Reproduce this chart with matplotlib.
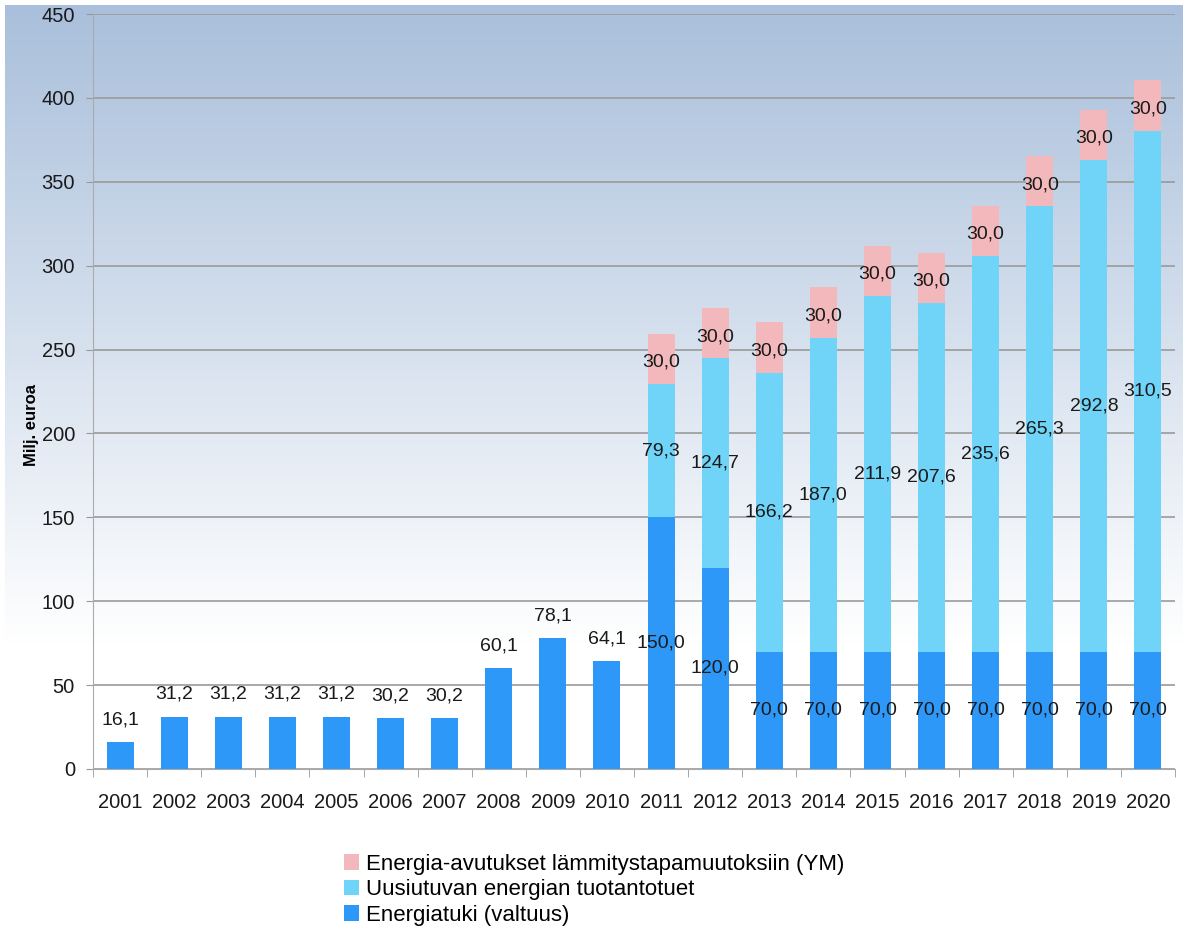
import numpy as np
import matplotlib
matplotlib.use("Agg")
import matplotlib.pyplot as plt
from matplotlib.colors import LinearSegmentedColormap

plt.rcParams['font.family'] = ['Liberation Sans', 'DejaVu Sans']

years = ['2001', '2002', '2003', '2004', '2005', '2006', '2007', '2008', '2009', '2010',
         '2011', '2012', '2013', '2014', '2015', '2016', '2017', '2018', '2019', '2020']
energiatuki = [16.1, 31.2, 31.2, 31.2, 31.2, 30.2, 30.2, 60.1, 78.1, 64.1,
               150.0, 120.0, 70.0, 70.0, 70.0, 70.0, 70.0, 70.0, 70.0, 70.0]
tuotantotuet = [0, 0, 0, 0, 0, 0, 0, 0, 0, 0,
                79.3, 124.7, 166.2, 187.0, 211.9, 207.6, 235.6, 265.3, 292.8, 310.5]
avustukset = [0, 0, 0, 0, 0, 0, 0, 0, 0, 0,
              30.0, 30.0, 30.0, 30.0, 30.0, 30.0, 30.0, 30.0, 30.0, 30.0]

labels = ['Energiatuki (valtuus)', 'Uusiutuvan energian tuotantotuet',
          'Energia-avutukset lämmitystapamuutoksiin (YM)']
colors = ['#2e98f8', '#6fd4f7', '#f3b8bb']

W, H = 1183, 936
fig = plt.figure(figsize=(W / 100, H / 100), dpi=100)

# background gradient (blue top -> white)
bg = fig.add_axes([0, 0, 1, 1], zorder=-10)
bg.set_axis_off()
rows = np.arange(H)
t = np.clip((rows - 5) / 640.0, 0, 1)
cmap = LinearSegmentedColormap.from_list('bg', ['#a9bfdb', '#ffffff'])
img = cmap(t)[:, None, :].repeat(W, axis=1)
img[:5, :, :3] = 1
img[:, :5, :3] = 1
bg.imshow(img, aspect='auto', extent=[0, 1, 0, 1], origin='upper')
bg.set_xlim(0, 1)
bg.set_ylim(0, 1)

ax = fig.add_axes([93 / W, 1 - 769 / H, (1175 - 93) / W, (769 - 14) / H])
ax.set_facecolor('none')

x = np.arange(len(years))
bw = 0.5
e = np.array(energiatuki)
u = np.array(tuotantotuet)
a = np.array(avustukset)
ax.bar(x, e, bw, color=colors[0], label=labels[0], zorder=3)
ax.bar(x, u, bw, bottom=e, color=colors[1], label=labels[1], zorder=3)
ax.bar(x, a, bw, bottom=e + u, color=colors[2], label=labels[2], zorder=3)

fmt = lambda v: f'{v:.1f}'.replace('.', ',')
fs = 14
tc = '#1a1a1a'
for i in range(len(years)):
    if u[i] == 0:
        ax.annotate(fmt(e[i]), (x[i], e[i]), xytext=(0, 16), textcoords='offset points',
                    ha='center', va='center', fontsize=fs, color=tc, zorder=5)
    else:
        ax.text(x[i], e[i] / 2, fmt(e[i]), ha='center', va='center', fontsize=fs,
                color=tc, zorder=5)
        ax.text(x[i], e[i] + u[i] / 2, fmt(u[i]), ha='center', va='center', fontsize=fs,
                color=tc, zorder=5)
        ax.text(x[i], e[i] + u[i] + a[i] / 2 - 2, fmt(a[i]), ha='center', va='center',
                fontsize=fs, color=tc, zorder=5)

ax.set_xlim(-0.5, len(years) - 0.5)
ax.set_ylim(0, 450)
ax.set_yticks(np.arange(0, 451, 50))
ax.set_xticks(x)
ax.set_xticklabels(years, fontsize=14.5, color=tc)
ax.set_xticks(np.arange(-0.5, len(years), 1), minor=True)
ax.tick_params(axis='x', which='major', length=0, pad=17)
ax.tick_params(axis='x', which='minor', length=6, color='#999999')
ax.tick_params(axis='y', length=5, color='#999999', labelsize=14.5, labelcolor=tc, pad=8)
ax.grid(axis='y', color='#9a9a9a', linewidth=1.2, zorder=0)
for sp in ['top', 'right']:
    ax.spines[sp].set_visible(False)
for sp in ['left', 'bottom']:
    ax.spines[sp].set_color('#aaaaaa')
ax.set_ylabel('Milj. euroa', fontsize=12, fontweight='bold')
ax.yaxis.set_label_coords(-0.05, 0.456)

handles, labs = ax.get_legend_handles_labels()
fig.legend(handles[::-1], labs[::-1], loc='upper left', bbox_to_anchor=(335 / W, 1 - 845 / H),
           frameon=False, fontsize=16, handlelength=0.7, handleheight=0.7,
           handletextpad=0.3, labelspacing=0.2, borderaxespad=0)

fig.savefig('out.png', dpi=100)
